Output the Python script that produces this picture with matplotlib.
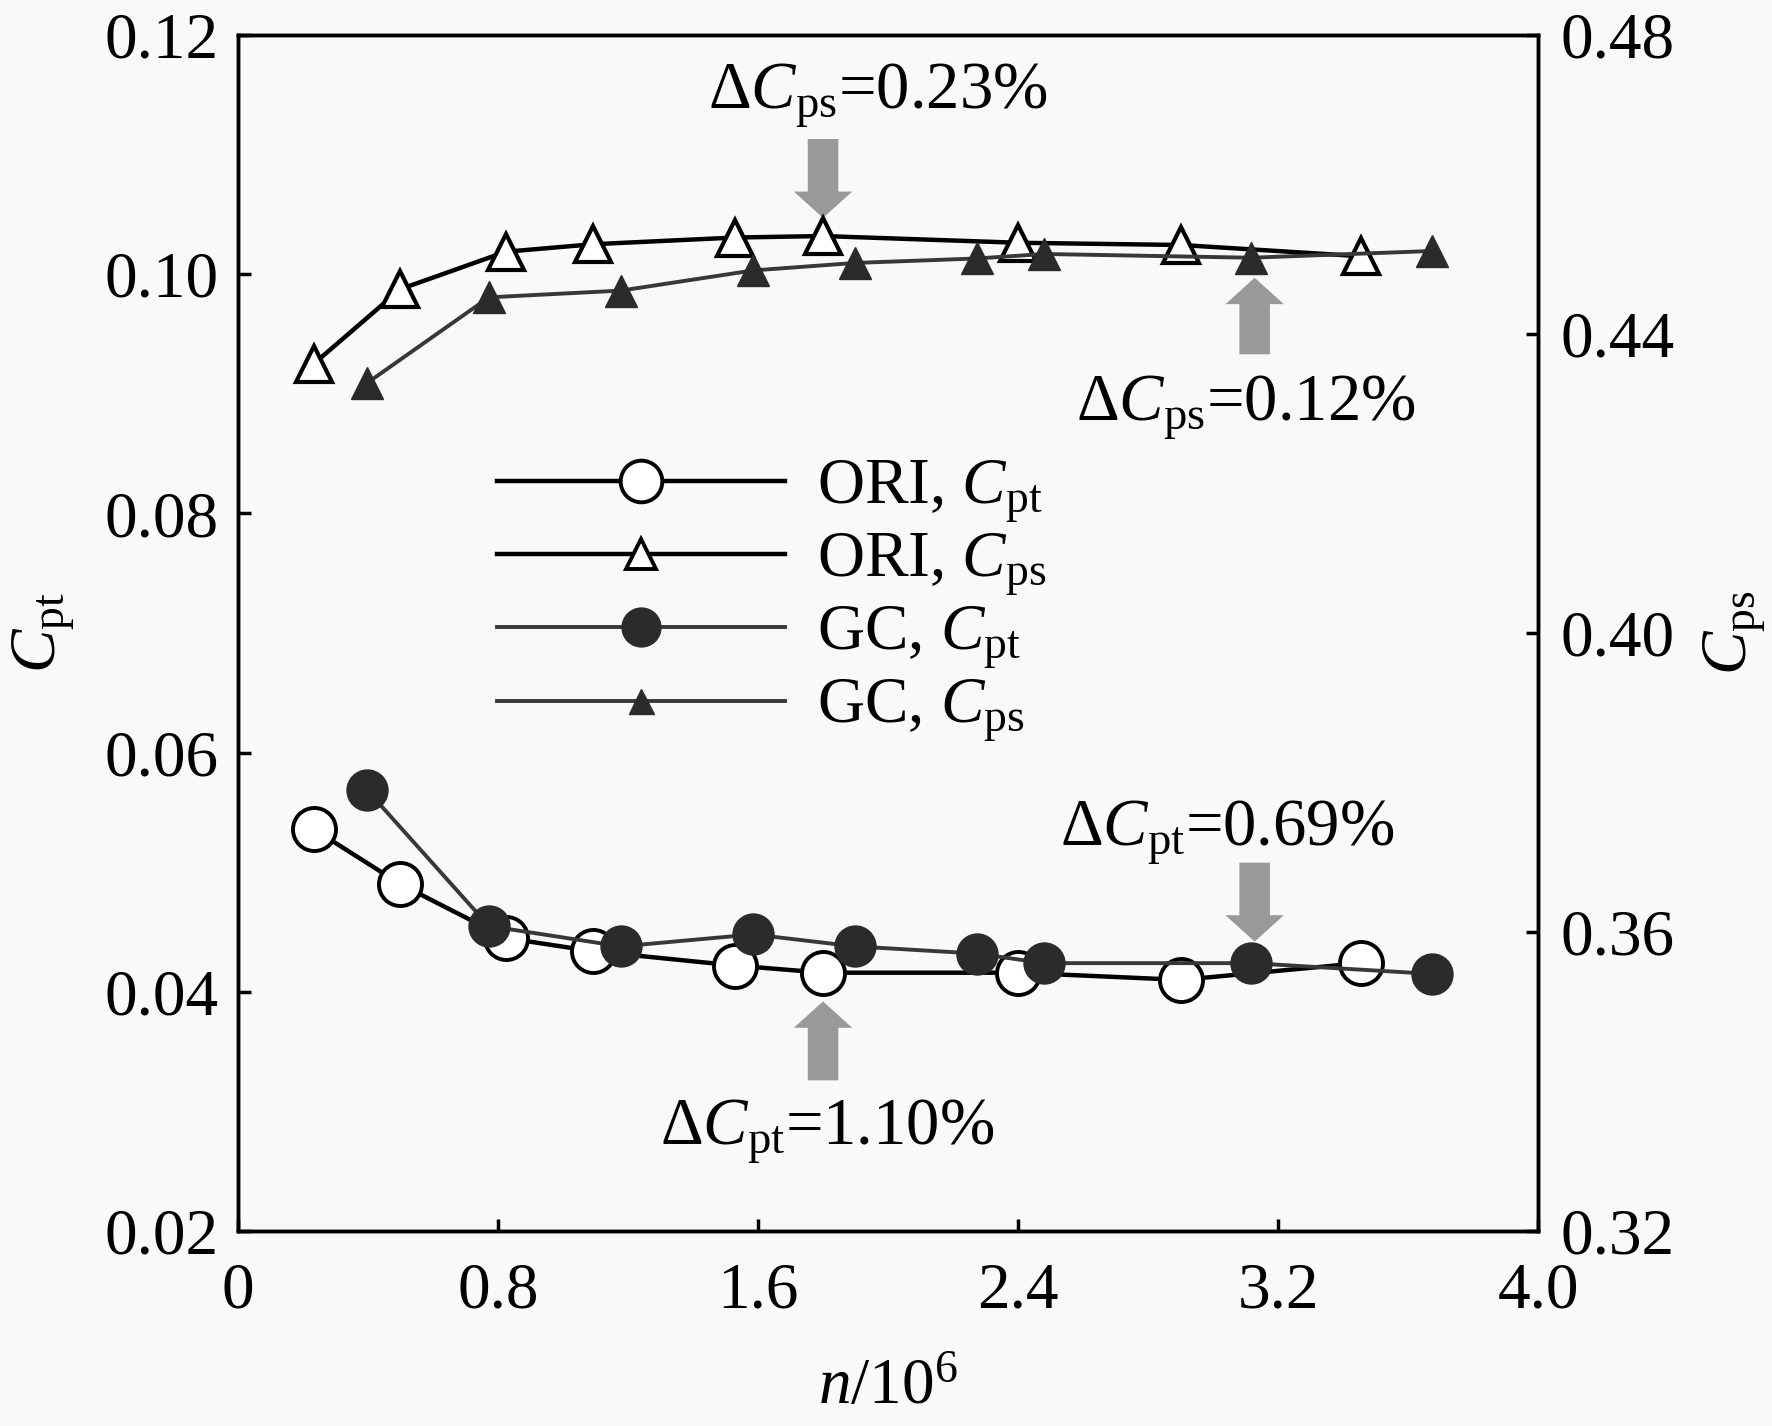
import matplotlib
matplotlib.use("Agg")
import matplotlib.pyplot as plt
from matplotlib.lines import Line2D

plt.rcParams['font.family'] = ['Liberation Serif', 'DejaVu Serif']
plt.rcParams['mathtext.fontset'] = 'custom'
plt.rcParams['mathtext.rm'] = 'Liberation Serif'
plt.rcParams['mathtext.it'] = 'Liberation Serif:italic'
plt.rcParams['mathtext.bf'] = 'Liberation Serif:bold'

# ---- data ----
ori_x = [0.233, 0.50, 0.824, 1.091, 1.529, 1.80, 2.401, 2.902, 3.454]
ori_cpt = [0.0536, 0.0490, 0.0445, 0.0434, 0.0422, 0.0416, 0.0416, 0.0410, 0.0424]
ori_cps = [0.4360, 0.4460, 0.4510, 0.4520, 0.4529, 0.4531, 0.4522, 0.4519, 0.4504]

gc_x = [0.396, 0.772, 1.178, 1.585, 1.898, 2.273, 2.481, 3.117, 3.673]
gc_cpt = [0.0569, 0.0455, 0.0438, 0.0448, 0.0438, 0.0432, 0.0424, 0.0424, 0.0415]
gc_cps = [0.4334, 0.4449, 0.4458, 0.4485, 0.4495, 0.4501, 0.4507, 0.4502, 0.4511]

x_ticks = [0, 0.8, 1.6, 2.4, 3.2, 4.0]
x_ticklabels = ['0', '0.8', '1.6', '2.4', '3.2', '4.0']
cpt_ticks = [0.02, 0.04, 0.06, 0.08, 0.10, 0.12]
cpt_ticklabels = ['0.02', '0.04', '0.06', '0.08', '0.10', '0.12']
cps_ticks = [0.32, 0.36, 0.40, 0.44, 0.48]
cps_ticklabels = ['0.32', '0.36', '0.40', '0.44', '0.48']

# annotations: arrows (x, tail_y, tip_y) in Cpt-axis data, labels
arrow_x = [1.80, 3.128, 3.128, 1.80]
arrow_tail = [0.1113, 0.0933, 0.0508, 0.0326]
arrow_tip = [0.1047, 0.0997, 0.0442, 0.0392]
ann_texts = [r'Δ$C_{\mathrm{ps}}$=0.23%', r'Δ$C_{\mathrm{ps}}$=0.12%',
             r'Δ$C_{\mathrm{pt}}$=0.69%', r'Δ$C_{\mathrm{pt}}$=1.10%']
ann_x = [1.967, 3.10, 3.044, 1.814]
ann_y = [0.1149, 0.0888, 0.0533, 0.0283]

FS = 46
BG = '#f9f9f9'
DARK = '#2b2b2b'
GCL = '#383838'
GRAY = '#999999'

fig = plt.figure(figsize=(17.72, 14.26), dpi=100, facecolor=BG)
ax = fig.add_axes([0.1343, 0.1367, 0.8680 - 0.1343, 0.9755 - 0.1367])
ax.set_facecolor(BG)
ax2 = ax.twinx()

# Cpt on left axis
ax.plot(ori_x, ori_cpt, color='black', lw=3.2, marker='o', ms=31,
        mfc='white', mec='black', mew=2.8, zorder=3)
ax.plot(gc_x, gc_cpt, color=GCL, lw=2.8, marker='o', ms=29,
        mfc=DARK, mec=DARK, mew=1.5, zorder=4)

# Cps on right axis
ax2.plot(ori_x, ori_cps, color='black', lw=3.2, marker='^', ms=26,
         mfc='white', mec='black', mew=3.0, zorder=3)
ax2.plot(gc_x, gc_cps, color=GCL, lw=2.8, marker='^', ms=23,
         mfc=DARK, mec=DARK, mew=1.0, zorder=4)

ax.set_xlim(0, 4.0)
ax.set_ylim(0.02, 0.12)
ax2.set_ylim(0.32, 0.48)
ax.set_xticks(x_ticks)
ax.set_xticklabels(x_ticklabels)
ax.set_yticks(cpt_ticks)
ax.set_yticklabels(cpt_ticklabels)
ax2.set_yticks(cps_ticks)
ax2.set_yticklabels(cps_ticklabels)

for a in (ax, ax2):
    for s in a.spines.values():
        s.set_linewidth(2.5)
ax.tick_params(axis='both', direction='in', length=9, width=2.5, labelsize=FS + 1, pad=14)
ax.tick_params(axis='x', pad=22)
ax2.tick_params(axis='y', direction='in', length=9, width=2.5, labelsize=FS + 1, pad=16)

ax.set_xlabel(r'$n$/10$^{6}$', fontsize=FS + 1, labelpad=26)
ax.set_ylabel(r'$C_{\mathrm{pt}}$', fontsize=FS + 1, labelpad=20)
ax2.set_ylabel(r'$C_{\mathrm{ps}}$', fontsize=FS + 1, rotation=90, labelpad=20)

# arrows
for xa, yt, yh in zip(arrow_x, arrow_tail, arrow_tip):
    ax.annotate('', xy=(xa, yh), xytext=(xa, yt),
                arrowprops=dict(arrowstyle='simple,head_width=4.2,head_length=1.9,tail_width=2.2',
                                color=GRAY, lw=0, shrinkA=0, shrinkB=0,
                                mutation_scale=10),
                zorder=5)
for t, xt, yt in zip(ann_texts, ann_x, ann_y):
    ax.text(xt, yt, t, fontsize=FS + 2, ha='center', va='center', zorder=6)

# legend
handles = [
    Line2D([], [], color='black', lw=3.2, marker='o', ms=30, mfc='white', mec='black', mew=2.8),
    Line2D([], [], color='black', lw=3.2, marker='^', ms=21, mfc='white', mec='black', mew=2.8),
    Line2D([], [], color=GCL, lw=2.8, marker='o', ms=28, mfc=DARK, mec=DARK),
    Line2D([], [], color=GCL, lw=2.8, marker='^', ms=18, mfc=DARK, mec=DARK),
]
labels = [r'ORI, $C_{\mathrm{pt}}$', r'ORI, $C_{\mathrm{ps}}$',
          r'GC, $C_{\mathrm{pt}}$', r'GC, $C_{\mathrm{ps}}$']
leg = ax2.legend(handles, labels, loc='center left', bbox_to_anchor=(0.1995, 0.5265),
                 frameon=False, fontsize=FS + 1, handlelength=4.4, handletextpad=0.5,
                 labelspacing=0.1, borderpad=0, borderaxespad=0)

fig.savefig('out.png', dpi=100, facecolor=BG)
